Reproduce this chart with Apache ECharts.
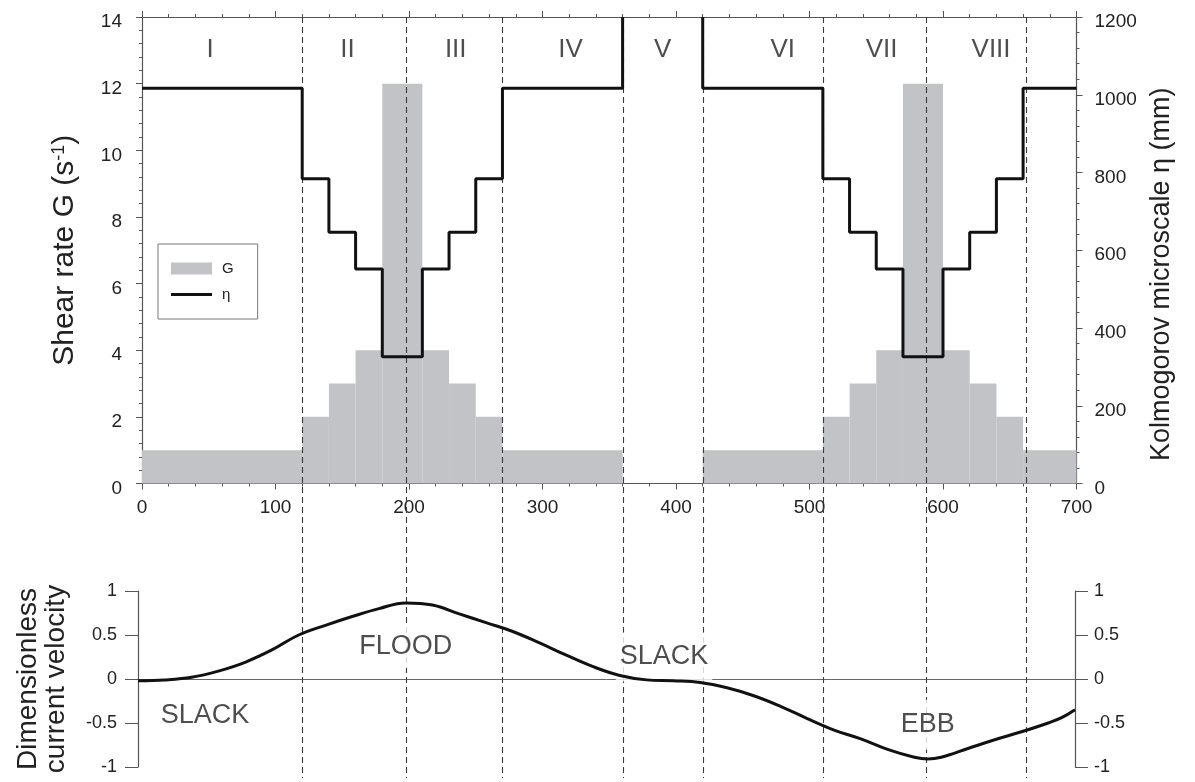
<!DOCTYPE html>
<html><head><meta charset="utf-8">
<script src="https://cdn.jsdelivr.net/npm/echarts@6/dist/echarts.min.js"></script>
<style>html,body{margin:0;padding:0;background:#fff}#c{width:1195px;height:782px}</style>
</head><body><div id="c"></div>
<script>
// ---- data ----
const segStart  = [0,120,140,160,180,210,230,250,270, 420,510,530,550,570,600,620,640,660];
const segEnd    = [120,140,160,180,210,230,250,270,360, 510,530,550,570,600,620,640,660,700];
const gValues   = [1,2,3,4,12,4,3,2,1, 1,2,3,4,12,4,3,2,1];
const etaValues = [1017,784,646,552,326,552,646,784,1017, 1017,784,646,552,326,552,646,784,1017];
const gTicks   = [0,2,4,6,8,10,12,14];
const etaTicks = [0,200,400,600,800,1000,1200];
const timeTicks = [0,100,200,300,400,500,600,700];
const velTicks = [-1,-0.5,0,0.5,1];
const phaseBounds = [120,198,270,360,420,510,587,662];
const phaseNames  = ['I','II','III','IV','V','VI','VII','VIII'];
const phaseLabelX = [51,154,235,321,390,480,554,636];
const phaseLabelG = 13;
const timeX    = [0,20,40,60,80,100,120,140,160,180,200,220,240,260,280,300,320,340,360,380,400,420,440,460,480,500,520,540,560,580,590,600,620,640,660,680,690,700];
const velocity = [-0.02,-0.01,0.02,0.09,0.19,0.33,0.50,0.61,0.71,0.80,0.865,0.84,0.74,0.64,0.54,0.41,0.27,0.14,0.04,-0.01,-0.02,-0.04,-0.10,-0.19,-0.31,-0.45,-0.58,-0.68,-0.80,-0.89,-0.91,-0.89,-0.79,-0.69,-0.60,-0.50,-0.44,-0.35];
const tideNames = ['SLACK','FLOOD','SLACK','EBB'];
const tideX = [50,200,393,590];
const tideV = [-0.42,0.37,0.25,-0.52];

// ---- build ----
const FONT = 'Liberation Sans, Arial, Helvetica, sans-serif';
const TXT = '#222';
const AX = '#555';
const etaMax = etaTicks[etaTicks.length-1];
function etaRun(a,b){const p=[];for(let i=a;i<=b;i++){p.push([segStart[i],etaValues[i]],[segEnd[i],etaValues[i]]);}return p;}
const runA = etaRun(0,8).concat([[segEnd[8], etaMax]]);
const runB = [[segStart[9], etaMax]].concat(etaRun(9,17));
const gData = segStart.map((s,i)=>[s, segEnd[i], gValues[i]]);
const tideMask = [null,[9,4,7,4],[13,4,9,4],[15,4,8,4]];

const chart = echarts.init(document.getElementById('c'), null, {renderer:'canvas'});
const tickLab = (sz)=>({fontSize:sz,color:TXT,fontFamily:FONT});
const shiftedLab = (margin)=>({margin:margin, formatter:v=>'{a|'+v+'}',
  rich:{a:{fontSize:19,color:TXT,fontFamily:FONT,padding:[10,0,0,0]}}});
const option = {
  backgroundColor:'#fff',
  animation:false,
  textStyle:{fontFamily:FONT},
  grid:[
    {left:142, right:118.5, top:17, bottom:298.5, outerBoundsMode:'none'},
    {left:138, right:120, top:591, bottom:15, outerBoundsMode:'none'},
    {left:142, right:118.5, top:17, bottom:4, outerBoundsMode:'none'}
  ],
  legend:{
    orient:'vertical', left:158, top:244, padding:[17,24,17,13], itemGap:11,
    itemWidth:41, itemHeight:12, borderColor:'#777', borderWidth:1, backgroundColor:'#fff',
    textStyle:{fontSize:15,color:TXT,fontFamily:FONT,padding:[0,0,0,5]},
    data:[{name:'G',icon:'rect'},{name:'η',icon:'path://M0,0H41V3H0Z'}]
  },
  xAxis:[
    {gridIndex:0,type:'value',min:timeTicks[0],max:timeTicks[timeTicks.length-1],interval:100,
     axisLine:{onZero:false,lineStyle:{color:AX,width:1.2}},
     axisTick:{length:6,lineStyle:{color:AX}},
     minorTick:{show:true,splitNumber:5,length:3,lineStyle:{color:AX}},
     splitLine:{show:false}, axisLabel:Object.assign({margin:15},tickLab(19))},
    {gridIndex:0,type:'value',position:'top',min:0,max:700,interval:100,
     axisLine:{onZero:false,lineStyle:{color:AX,width:1.2}},
     axisTick:{length:6,lineStyle:{color:AX}},
     minorTick:{show:true,splitNumber:5,length:3,lineStyle:{color:AX}},
     splitLine:{show:false}, axisLabel:{show:false}},
    {gridIndex:1,type:'value',min:0,max:700,
     axisLine:{onZero:true,lineStyle:{color:'#666',width:1}},
     axisTick:{show:false},axisLabel:{show:false},splitLine:{show:false}},
    {gridIndex:2,type:'value',min:0,max:700,show:false}
  ],
  yAxis:[
    {gridIndex:0,type:'value',min:gTicks[0],max:gTicks[gTicks.length-1],interval:2,
     axisLine:{show:true,onZero:false,lineStyle:{color:AX,width:1.2}},
     axisTick:{show:true,length:6,lineStyle:{color:AX}},
     minorTick:{show:true,splitNumber:5,length:3,lineStyle:{color:AX}},
     splitLine:{show:false}, axisLabel:shiftedLab(20),
     name:'Shear rate G (s{sup|-1})', nameLocation:'middle', nameRotate:90, nameGap:62,
     nameTextStyle:{fontSize:30,color:TXT,fontFamily:FONT,
       rich:{sup:{fontSize:18,color:TXT,fontFamily:FONT,verticalAlign:'top',padding:[0,0,12,0]}}}},
    {gridIndex:0,type:'value',position:'right',min:etaTicks[0],max:etaMax,interval:200,
     axisLine:{show:true,onZero:false,lineStyle:{color:AX,width:1.2}},
     axisTick:{show:true,length:6,lineStyle:{color:AX}},
     minorTick:{show:true,splitNumber:5,length:3,lineStyle:{color:AX}},
     splitLine:{show:false}, axisLabel:shiftedLab(18),
     name:'Kolmogorov microscale η (mm)', nameLocation:'middle', nameRotate:90, nameGap:70,
     nameTextStyle:{fontSize:27,color:TXT,fontFamily:FONT,padding:[0,48,0,0]}},
    {gridIndex:1,type:'value',min:velTicks[0],max:velTicks[velTicks.length-1],interval:0.5,
     axisLine:{show:true,onZero:false,lineStyle:{color:AX,width:1.2}},
     axisTick:{show:true,length:13,lineStyle:{color:AX}},
     splitLine:{show:false}, axisLabel:Object.assign({margin:21},tickLab(18)),
     name:'Dimensionless\ncurrent velocity', nameLocation:'middle', nameRotate:90, nameGap:68,
     nameTextStyle:{fontSize:28,lineHeight:28,color:TXT,fontFamily:FONT}},
    {gridIndex:1,type:'value',position:'right',min:-1,max:1,interval:0.5,
     axisLine:{show:true,onZero:false,lineStyle:{color:AX,width:1.2}},
     axisTick:{show:true,length:13,lineStyle:{color:AX}},
     splitLine:{show:false}, axisLabel:Object.assign({margin:19},tickLab(18))},
    {gridIndex:2,type:'value',min:0,max:1,show:false}
  ],
  series:[
    {name:'G',type:'custom',xAxisIndex:0,yAxisIndex:0,z:1,silent:true,
     itemStyle:{color:'#c1c3c6'},
     encode:{x:[0,1],y:2},
     data:gData,
     renderItem:(params,api)=>{
       const p0=api.coord([api.value(0),api.value(2)]);
       const p1=api.coord([api.value(1),0]);
       return {type:'rect',shape:{x:p0[0],y:p0[1],width:p1[0]-p0[0],height:p1[1]-p0[1]},
               style:{fill:'#c1c3c6'}};
     }},
    {name:'phases',type:'custom',xAxisIndex:3,yAxisIndex:4,z:2,silent:true,clip:false,
     encode:{x:0,y:1},
     data:phaseBounds.map(v=>[v,0]),
     renderItem:(params,api)=>{
       const x=Math.round(api.coord([api.value(0),0])[0])+0.5;
       const cs=params.coordSys;
       return {type:'line',shape:{x1:x,y1:cs.y,x2:x,y2:cs.y+cs.height},
               style:{stroke:'#3a3a3a',lineWidth:1.1,lineDash:[6,4]}};
     }},
    {name:'η',type:'line',xAxisIndex:0,yAxisIndex:1,data:runA,symbol:'none',z:5,
     lineStyle:{color:'#111',width:3},itemStyle:{color:'#111'}},
    {name:'η',type:'line',xAxisIndex:0,yAxisIndex:1,data:runB,symbol:'none',z:5,
     lineStyle:{color:'#111',width:3},itemStyle:{color:'#111'}},
    {name:'phaseLabels',type:'scatter',xAxisIndex:0,yAxisIndex:0,symbolSize:0,z:6,silent:true,
     data:phaseLabelX.map((x,i)=>[x,phaseLabelG]),
     label:{show:true,position:'inside',fontSize:26,color:TXT,fontFamily:FONT,
       formatter:p=>phaseNames[p.dataIndex]}},
    {name:'tideLabels',type:'scatter',xAxisIndex:2,yAxisIndex:2,symbolSize:0,z:3,silent:true,
     data:tideX.map((x,i)=>{
       const item={value:[x,tideV[i]]};
       if(tideMask[i]) item.label={backgroundColor:'#fff',padding:tideMask[i]};
       return item;
     }),
     label:{show:true,position:'inside',fontSize:27,color:TXT,fontFamily:FONT,
       formatter:p=>tideNames[p.dataIndex]}},
    {name:'velocity',type:'line',xAxisIndex:2,yAxisIndex:2,smooth:0.4,symbol:'none',z:5,
     data:timeX.map((t,i)=>[t,velocity[i]]),
     lineStyle:{color:'#111',width:3}}
  ]
};
chart.setOption(option);
</script></body></html>
